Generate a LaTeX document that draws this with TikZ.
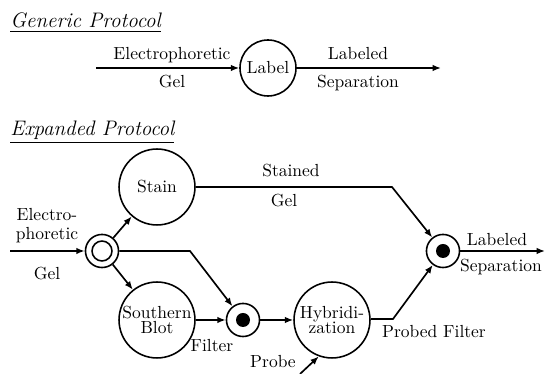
\documentclass[tikz,border=0pt]{standalone}
\usetikzlibrary{arrows.meta}
\begin{document}
\begin{tikzpicture}[x=0.5714pt,y=-0.5714pt,
  every node/.style={font=\normalsize},
  wire/.style={line width=0.95pt},
  arr/.style={wire,-{Latex[length=4.8pt,width=3.8pt]}},
  proc/.style={circle,draw,line width=0.9pt,minimum size=43.4pt,inner sep=0pt,align=center},
  small/.style={circle,draw,line width=0.9pt,minimum size=32pt,inner sep=0pt},
  junc/.style={circle,draw,line width=0.9pt,minimum size=18.9pt,inner sep=0pt},
  lbl/.style={inner sep=0pt,anchor=base},
  title/.style={inner sep=0pt,anchor=base west,font=\large\itshape}]
\useasboundingbox (0,0) rectangle (545,374);

% ---- generic protocol ----
\node[title] (t1) at (10,28) {\underline{Generic Protocol}};
\node[small] (label) at (268,68) {Label};
\coordinate (gin) at (96,68);
\coordinate (gout) at (441,68);
\draw[arr] (gin) -- (label);
\draw[arr] (label) -- (gout);
\node[lbl] (ge) at (172,60) {Electrophoretic};
\node[lbl] (gg) at (172,88) {Gel};
\node[lbl] (gl) at (358,60) {Labeled};
\node[lbl] (gs) at (358,88) {Separation};

% ---- expanded protocol ----
\node[title] (t2) at (10,136) {\underline{Expanded Protocol}};
\node[proc] (stain) at (157,187) {Stain};
\node[proc] (blot) at (157,320) {Southern\\[-3pt]Blot};
\node[proc] (hyb) at (332,320) {Hybridi-\\[-3pt]zation};

% split node on the incoming gel
\node[junc] (src) at (102,251) {};
\node[circle,draw,line width=0.9pt,minimum size=11.4pt,inner sep=0pt] (srcin) at (src) {};
% joins
\node[junc] (j1) at (243,320) {};
\fill (j1) circle (4pt);
\node[junc] (fin) at (443,251) {};
\fill (fin) circle (4pt);

\coordinate (ein) at (10,251);
\coordinate (b1) at (190,251);
\coordinate (b2) at (392,187);
\coordinate (b3) at (393,319);
\coordinate (pin) at (300,374);
\coordinate (eout) at (545,251);

\draw[arr] (ein) -- (src);
\draw[arr] (src) -- (stain);
\draw[arr] (src) -- (blot);
\draw[arr] (src.east) -- (b1) -- (j1);
\draw[arr] (blot) -- (j1);
\draw[arr] (j1) -- (hyb);
\draw[arr] (pin) -- (hyb.250);
\draw[arr] (stain.east) -- (b2) -- (fin);
\draw[arr] (hyb.east |- b3) -- (b3) -- (fin);
\draw[arr] (fin) -- (eout);

\node[lbl] (e1) at (47,221) {Electro-};
\node[lbl] (e2) at (47,240) {phoretic};
\node[lbl] (e3) at (47,280) {Gel};
\node[lbl] (s1) at (291,177) {Stained};
\node[lbl] (s2) at (284,207) {Gel};
\node[lbl] (f1) at (212,352) {Filter};
\node[lbl] (p1) at (273,368) {Probe};
\node[lbl] (pf) at (434,338) {Probed Filter};
\node[lbl] (o1) at (497,246) {Labeled};
\node[lbl] (o2) at (501,272) {Separation};
\end{tikzpicture}
\end{document}
